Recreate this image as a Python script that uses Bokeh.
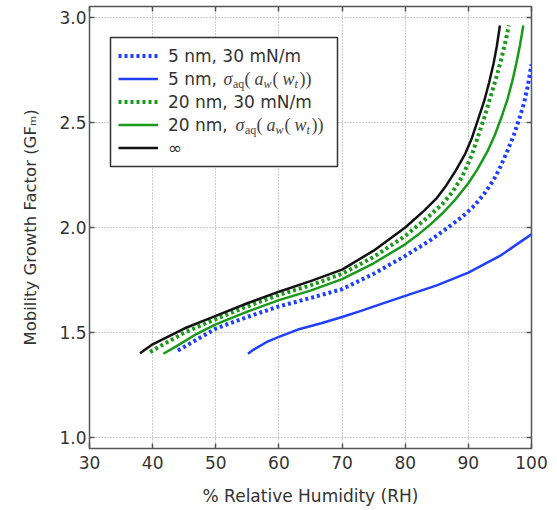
import numpy as np
from bokeh.plotting import figure
from bokeh.models import (Range1d, FixedTicker, PrintfTickFormatter, LinearAxis,
                          Legend, LegendItem, Label, BoxAnnotation, CustomJSTickFormatter)
from bokeh.embed import file_html
from bokeh.resources import INLINE

# ---------------- data ----------------
rh_5nm_30 = [44, 46, 50, 55, 60, 65, 70, 75, 80, 84, 87, 89, 91, 92.5, 94, 95.1, 96.2,
             97.2, 98, 98.8, 99.4, 100]
gf_5nm_30 = [1.416, 1.45, 1.52, 1.575, 1.625, 1.665, 1.707, 1.78, 1.865, 1.94, 2.005, 2.05,
             2.105, 2.16, 2.225, 2.29, 2.365, 2.44, 2.51, 2.59, 2.67, 2.775]

rh_5nm_sig = [55.1, 56, 58, 60, 63, 66.7, 70, 73, 76, 80, 85, 90, 95, 100]
gf_5nm_sig = [1.40, 1.42, 1.455, 1.48, 1.515, 1.545, 1.575, 1.604, 1.635, 1.675, 1.725,
              1.786, 1.865, 1.968]

rh_20nm_30 = [39.6, 42, 45, 50, 55, 60, 65, 70, 75, 80, 84, 86, 87.5, 89, 90.5, 91.5, 92.5,
              93.5, 94.5, 95.3, 96, 96.4]
gf_20nm_30 = [1.408, 1.45, 1.50, 1.565, 1.625, 1.68, 1.725, 1.78, 1.86, 1.96, 2.06, 2.115,
              2.17, 2.24, 2.34, 2.43, 2.52, 2.62, 2.72, 2.81, 2.90, 2.96]

rh_20nm_sig = [41.7, 44, 47, 50, 55, 60, 65, 70, 75, 80, 82, 84, 86, 88, 90, 91.5, 93, 94.2,
               95.2, 96.2, 97, 97.6, 98.2, 98.7]
gf_20nm_sig = [1.40, 1.44, 1.495, 1.54, 1.60, 1.655, 1.70, 1.755, 1.83, 1.92, 1.965, 2.015,
               2.07, 2.135, 2.21, 2.28, 2.36, 2.44, 2.52, 2.61, 2.70, 2.78, 2.87, 2.96]

rh_inf = [38, 40, 45, 50, 55, 60, 65, 70, 75, 80, 83, 85, 86.5, 88, 89.5, 90.5, 91.5, 92.5,
          93.3, 94, 94.5, 95]
gf_inf = [1.403, 1.445, 1.52, 1.58, 1.64, 1.695, 1.745, 1.80, 1.89, 2.00, 2.08, 2.14, 2.20,
          2.27, 2.35, 2.42, 2.51, 2.60, 2.69, 2.78, 2.86, 2.96]

x_ticks = [30, 40, 50, 60, 70, 80, 90, 100]
y_ticks = [1.0, 1.5, 2.0, 2.5, 3.0]

labels_plain = ["5 nm, 30 mN/m", "5 nm,", "20 nm, 30 mN/m", "20 nm,", "\u221e"]
x_label = "% Relative Humidity (RH)"
y_label = "Mobility Growth Factor (GF\u2098)"

# ---------------- styles ----------------
BLUE = "#2040ff"
GREEN = "#1a9a1a"
BLACK = "#111111"
TXT = "#333333"
SANS = "DejaVu Sans"
SERIF = "Liberation Serif"

FL, FR, FT, FB = 89, 531, 6, 448  # frame edges on the canvas (px)
XR = (30, 100)
YR = (0.95, 3.05)
LEG_L, LEG_R, LEG_T, LEG_B, LEG_PAD = 110, 337, 37, 166, 8  # legend box (canvas px)


def px_to_x(cx):
    return XR[0] + (cx - FL) * (XR[1] - XR[0]) / (FR - FL)


def px_to_y(cy):
    return YR[0] + (FB - cy) * (YR[1] - YR[0]) / (FB - FT)


p = figure(width=557, height=510, output_backend="svg", toolbar_location=None,
           x_range=Range1d(*XR), y_range=Range1d(*YR),
           min_border_left=FL, min_border_right=557 - FR, min_border_top=FT,
           min_border_bottom=510 - FB)
p.background_fill_color = "white"
p.border_fill_color = "white"
p.outline_line_color = "#555555"
p.outline_line_width = 1.5

r1 = p.line(rh_5nm_30, gf_5nm_30, color=BLUE, line_width=4, line_dash="3 3")
r2 = p.line(rh_5nm_sig, gf_5nm_sig, color=BLUE, line_width=2.5)
r3 = p.line(rh_20nm_30, gf_20nm_30, color=GREEN, line_width=4, line_dash="3 3")
r4 = p.line(rh_20nm_sig, gf_20nm_sig, color=GREEN, line_width=2.5)
r5 = p.line(rh_inf, gf_inf, color=BLACK, line_width=2.5)

# axes
for ax, ticks in ((p.xaxis[0], x_ticks), (p.yaxis[0], y_ticks)):
    ax.ticker = FixedTicker(ticks=ticks)
    ax.axis_line_color = None
    ax.major_tick_in = 5
    ax.major_tick_out = 0
    ax.major_tick_line_color = "#555555"
    ax.major_tick_line_width = 1.5
    ax.minor_tick_line_color = None
    ax.major_label_text_font = SANS
    ax.major_label_text_font_size = "17px"
    ax.major_label_text_color = TXT
    ax.axis_label_text_font = SANS
    ax.axis_label_text_font_style = "normal"
    ax.axis_label_text_color = TXT
p.yaxis[0].formatter = PrintfTickFormatter(format="%.1f")
p.yaxis[0].major_label_standoff = 3
p.yaxis[0].axis_label = y_label
p.yaxis[0].axis_label_text_font_size = "16.5px"
p.yaxis[0].axis_label_standoff = 16
p.xaxis[0].major_label_standoff = 7
p.xaxis[0].axis_label = x_label
p.xaxis[0].axis_label_text_font_size = "17px"
p.xaxis[0].axis_label_standoff = 14

for place, ticks in (("above", x_ticks), ("right", y_ticks)):
    a = LinearAxis(ticker=FixedTicker(ticks=ticks), axis_line_color=None,
                   major_tick_in=5, major_tick_out=0, major_tick_line_color="#555555",
                   major_tick_line_width=1.5, minor_tick_line_color=None,
                   formatter=CustomJSTickFormatter(code="return ''"),
                   major_label_standoff=0)
    p.add_layout(a, place)

p.xgrid.ticker = FixedTicker(ticks=x_ticks)
p.ygrid.ticker = FixedTicker(ticks=y_ticks)
for g in (p.xgrid[0], p.ygrid[0]):
    g.grid_line_color = "#9a9a9a"
    g.grid_line_dash = "1 2"
    g.grid_line_width = 1

# legend box (opaque white panel with border), drawn beneath the legend entries
p.add_layout(BoxAnnotation(left=px_to_x(LEG_L), right=px_to_x(LEG_R),
                           top=px_to_y(LEG_T), bottom=px_to_y(LEG_B),
                           fill_color="white", fill_alpha=1,
                           line_color="#333333", line_width=1.5, line_alpha=1))

# legend (transparent, so the math text beside it can be seen)
legend = Legend(items=[LegendItem(label=t, renderers=[r])
                       for t, r in zip(labels_plain, [r1, r2, r3, r4, r5])],
                location=(LEG_L + LEG_PAD - FL, FB - (LEG_B - LEG_PAD)))
legend.padding = 0
legend.spacing = 2
legend.margin = 0
legend.label_height = 21
legend.glyph_height = 21
legend.glyph_width = 40
legend.label_standoff = 10
legend.label_width = 161
legend.border_line_color = None
legend.background_fill_alpha = 0
legend.label_text_font = SANS
legend.label_text_font_size = "17px"
legend.label_text_color = TXT
p.add_layout(legend)

# math part of legend rows 2 and 4:  sigma_aq( a_w( w_t))
math_pieces = [  # text, style, size(px), x offset(px), subscript drop(px)
    ("\u03c3", "italic", 18, 0, 0),
    ("aq", "normal", 12, 9.5, 5),
    ("(", "normal", 18, 21, 0),
    ("a", "italic", 18, 31, 0),
    ("w", "italic", 12, 40, 5),
    ("(", "normal", 18, 49, 0),
    ("w", "italic", 18, 59, 0),
    ("t", "italic", 12, 71, 5),
    ("))", "normal", 18, 76, 0),
]
for row_cy, start_cx in ((78.5, 223), (124.5, 235)):
    for txt, style, size, dx, drop in math_pieces:
        p.add_layout(Label(x=px_to_x(start_cx + dx), y=px_to_y(row_cy + drop),
                           text=txt, text_font=SERIF, text_font_style=style,
                           text_font_size=f"{size}px", text_color="#444444",
                           text_align="left", text_baseline="middle"))

open("out.html", "w").write(file_html(p, INLINE))
